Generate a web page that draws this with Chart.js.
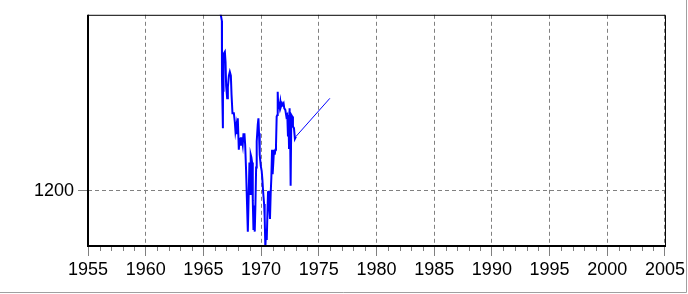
<!DOCTYPE html>
<html>
<head>
<meta charset="utf-8">
<script src="https://cdn.jsdelivr.net/npm/chart.js@4"></script>
<style>
  body { margin: 0; background: #fff; }
  #wrap { width: 688px; height: 294px; }
</style>
</head>
<body>
<div id="wrap"><canvas id="myChart" width="688" height="294"></canvas></div>
<script>
// data
const years = [1966.49, 1966.60, 1966.61, 1966.69, 1966.70, 1966.72, 1966.77, 1966.86, 1966.92, 1966.97,
  1967.06, 1967.12, 1967.21, 1967.29, 1967.38, 1967.44, 1967.52, 1967.64, 1967.72, 1967.78,
  1967.87, 1967.92, 1967.98, 1968.07, 1968.13, 1968.18, 1968.24, 1968.33, 1968.41, 1968.47,
  1968.56, 1968.62, 1968.70, 1968.79, 1968.85, 1968.90, 1968.99, 1969.05, 1969.10, 1969.16,
  1969.22, 1969.28, 1969.34, 1969.39, 1969.45, 1969.51, 1969.57, 1969.62, 1969.71, 1969.77,
  1969.82, 1969.88, 1969.97, 1970.05, 1970.11, 1970.17, 1970.26, 1970.31, 1970.37, 1970.43,
  1970.49, 1970.54, 1970.60, 1970.66, 1970.72, 1970.77, 1970.83, 1970.89, 1970.95, 1971.00,
  1971.06, 1971.12, 1971.18, 1971.24, 1971.29, 1971.35, 1971.41, 1971.44, 1971.49, 1971.55,
  1971.61, 1971.67, 1971.72, 1971.81, 1971.87, 1971.95, 1972.01, 1972.10, 1972.19, 1972.27,
  1972.33, 1972.39, 1972.42, 1972.47, 1972.53, 1972.56, 1972.62, 1972.70, 1972.76, 1972.85,
  1972.93, 1973.02, 1975.96];
const values = [1520, 1507, 1405, 1313, 1405, 1379, 1447, 1451, 1432, 1390,
  1367, 1387, 1408, 1415, 1408, 1373, 1340, 1340, 1325, 1307,
  1319, 1304, 1331, 1274, 1295, 1283, 1295, 1295, 1283, 1302,
  1302, 1283, 1236, 1170, 1126, 1170, 1251, 1194, 1265, 1260,
  1251, 1182, 1129, 1173, 1126, 1176, 1242, 1289, 1319, 1331,
  1304, 1265, 1245, 1236, 1221, 1200, 1176, 1152, 1096, 1131,
  1111, 1152, 1197, 1200, 1167, 1149, 1194, 1224, 1274, 1230,
  1251, 1274, 1265, 1274, 1280, 1334, 1337, 1379, 1349, 1361,
  1352, 1361, 1352, 1358, 1355, 1358, 1349, 1346, 1334, 1337,
  1298, 1313, 1277, 1349, 1274, 1209, 1337, 1334, 1316, 1313,
  1294, 1298, 1367];
const yTicks = [1200];
const xMin = 1955, xMax = 2005;

const points = years.map((y, i) => ({ x: y, y: values[i] }));
const lastIdx = points.length - 1;

// frame, minor year ticks and the grey picture edge
const framePlugin = {
  id: 'frame',
  afterDraw(chart) {
    const ctx = chart.ctx;
    const a = chart.chartArea;
    const xs = chart.scales.x;
    ctx.save();
    ctx.strokeStyle = '#808080';
    ctx.lineWidth = 1;
    for (let yr = xMin; yr <= xMax; yr++) {
      if (yr % 5 === 0) continue;
      const px = Math.round(xs.getPixelForValue(yr)) + 0.5;
      ctx.beginPath();
      ctx.moveTo(px, a.bottom);
      ctx.lineTo(px, a.bottom + 5);
      ctx.stroke();
    }
    ctx.strokeStyle = '#000';
    ctx.lineWidth = 1;
    ctx.beginPath();
    ctx.moveTo(a.left, a.top + 0.5);
    ctx.lineTo(a.right + 0.5, a.top + 0.5);
    ctx.lineTo(a.right + 0.5, a.bottom);
    ctx.stroke();
    ctx.lineWidth = 2;
    ctx.beginPath();
    ctx.moveTo(a.left, a.top);
    ctx.lineTo(a.left, a.bottom);
    ctx.lineTo(a.right + 1, a.bottom);
    ctx.stroke();
    // outer edge
    ctx.fillStyle = '#fff';
    ctx.fillRect(686, 0, 2, 294);
    ctx.fillRect(0, 292, 688, 2);
    ctx.strokeStyle = '#a0a0a0';
    ctx.lineWidth = 1;
    ctx.beginPath();
    ctx.moveTo(686.5, 0);
    ctx.lineTo(686.5, 292.5);
    ctx.lineTo(0, 292.5);
    ctx.stroke();
    ctx.restore();
  }
};

const myChart = new Chart(document.getElementById('myChart').getContext('2d'), {
  type: 'line',
  data: {
    datasets: [{
      data: points,
      borderColor: '#0000ff',
      borderWidth: 2,
      segment: { borderWidth: c => c.p1DataIndex === lastIdx ? 1 : 2 },
      pointRadius: 0,
      tension: 0,
      fill: false
    }]
  },
  options: {
    responsive: false,
    animation: false,
    layout: { padding: { top: 12, right: 21, left: 0, bottom: 0 } },
    plugins: { legend: { display: false }, tooltip: { enabled: false } },
    scales: {
      x: {
        type: 'linear',
        min: xMin,
        max: xMax,
        afterFit(scale) { scale.height = 48; },
        ticks: {
          stepSize: 5,
          autoSkip: false,
          maxRotation: 0,
          padding: 3,
          color: '#000',
          font: { family: 'Liberation Sans, Arial, sans-serif', size: 18 },
          callback: v => String(v)
        },
        grid: { color: '#808080', tickColor: '#808080', tickLength: 10, tickBorderDash: [] },
        border: { display: false, dash: [4, 3] }
      },
      y: {
        min: 1100,
        max: 1518,
        afterFit(scale) { scale.width = 88; },
        afterBuildTicks(scale) { scale.ticks = yTicks.map(v => ({ value: v })); },
        ticks: {
          padding: 4,
          color: '#000',
          font: { family: 'Liberation Sans, Arial, sans-serif', size: 18 },
          callback: v => String(v)
        },
        grid: { color: '#808080', tickColor: '#808080', tickLength: 10, tickBorderDash: [] },
        border: { display: false, dash: [4, 3] }
      }
    }
  },
  plugins: [framePlugin]
});
</script>
</body>
</html>
